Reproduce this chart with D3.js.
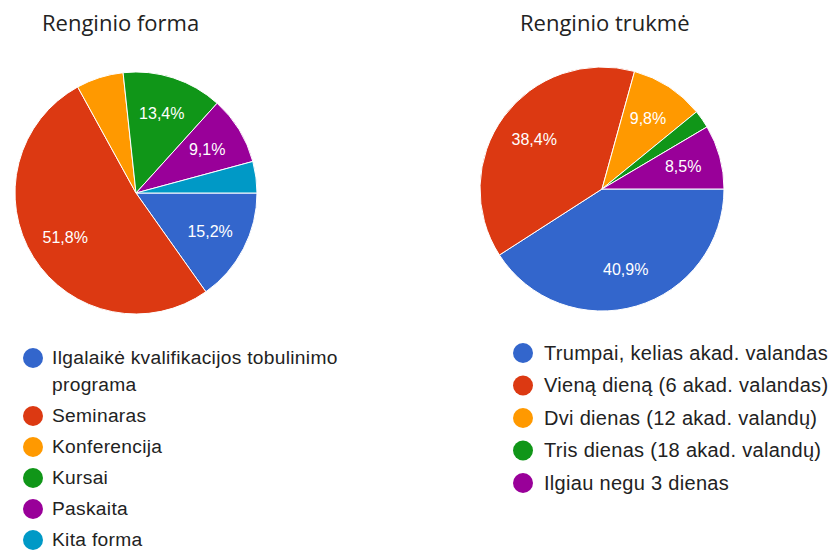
<!DOCTYPE html>
<html>
<head>
<meta charset="utf-8">
<script src="https://cdn.jsdelivr.net/npm/d3@7"></script>
<style>
  body { margin: 0; background: #fff; }
  .title { font-family: "Open Sans", "Noto Sans", sans-serif; fill: #222; }
  .slice-label { font-family: "Liberation Sans", Arial, sans-serif; fill: #fff; }
  .legend-text { font-family: "Liberation Sans", Arial, sans-serif; fill: #222; }
</style>
</head>
<body>
<div id="chart"></div>
<script>
// Renginio forma
const formLabels = [
  "Ilgalaikė kvalifikacijos tobulinimo\nprograma",
  "Seminaras",
  "Konferencija",
  "Kursai",
  "Paskaita",
  "Kita forma",
];
const formValues = [15.2, 51.8, 6.3, 13.4, 9.1, 4.2];

// Renginio trukmė
const durationLabels = [
  "Trumpai, kelias akad. valandas",
  "Vieną dieną (6 akad. valandas)",
  "Dvi dienas (12 akad. valandų)",
  "Tris dienas (18 akad. valandų)",
  "Ilgiau negu 3 dienas",
];
const durationValues = [40.9, 38.4, 9.8, 2.4, 8.5];

const palette = ["#3366cc", "#dc3912", "#ff9900", "#109618", "#990099", "#0099c6"];

const width = 837;
const height = 552;

const svg = d3.select("#chart")
  .append("svg")
  .attr("width", width)
  .attr("height", height);

function drawPie(cfg) {
  const g = svg.append("g");

  g.append("text")
    .attr("class", "title")
    .attr("x", cfg.titleX)
    .attr("y", 31)
    .attr("font-size", 22)
    .text(cfg.title);

  const pie = d3.pie()
    .sort(null)
    .startAngle(Math.PI / 2)
    .endAngle(Math.PI / 2 + 2 * Math.PI);

  const arcs = pie(cfg.values);
  const arc = d3.arc().innerRadius(0).outerRadius(cfg.r);
  const labelArc = d3.arc().innerRadius(cfg.r * 0.69).outerRadius(cfg.r * 0.69);

  const pieG = g.append("g")
    .attr("transform", `translate(${cfg.cx},${cfg.cy})`);

  pieG.selectAll("path")
    .data(arcs)
    .join("path")
    .attr("d", arc)
    .attr("fill", (d, i) => palette[i])
    .attr("stroke", "#fff")
    .attr("stroke-width", 1);

  // only label slices big enough (Google hides small ones)
  pieG.selectAll(".slice-label")
    .data(arcs.filter((d) => d.data >= 8))
    .join("text")
    .attr("class", "slice-label")
    .attr("transform", (d) => `translate(${labelArc.centroid(d)})`)
    .attr("text-anchor", "middle")
    .attr("dy", "0.35em")
    .attr("font-size", 16)
    .text((d) => d.data.toFixed(1).replace(".", ",") + "%");

  // legend
  const legend = g.append("g")
    .attr("transform", `translate(${cfg.legendX},${cfg.legendY})`);

  let y = 0;
  cfg.labels.forEach((label, i) => {
    const lines = label.split("\n");
    const item = legend.append("g").attr("transform", `translate(0,${y})`);
    item.append("circle")
      .attr("cx", 0)
      .attr("cy", 0)
      .attr("r", 10)
      .attr("fill", palette[i]);
    const t = item.append("text")
      .attr("class", "legend-text")
      .attr("x", cfg.textGap)
      .attr("y", 0)
      .attr("font-size", cfg.legendFont)
      .attr("letter-spacing", 0.3);
    lines.forEach((ln, j) => {
      t.append("tspan")
        .attr("x", cfg.textGap)
        .attr("dy", j === 0 ? "0.33em" : cfg.lineH)
        .text(ln);
    });
    y += cfg.rowH + (lines.length - 1) * cfg.lineH;
  });
}

drawPie({
  title: "Renginio forma",
  titleX: 42,
  values: formValues,
  labels: formLabels,
  cx: 136, cy: 193, r: 121,
  legendX: 33, legendY: 358,
  textGap: 19, rowH: 31, lineH: 27, legendFont: 19.2,
});

drawPie({
  title: "Renginio trukmė",
  titleX: 520,
  values: durationValues,
  labels: durationLabels,
  cx: 602, cy: 189, r: 122,
  legendX: 523, legendY: 353,
  textGap: 21, rowH: 32.5, lineH: 27, legendFont: 20,
});
</script>
</body>
</html>
